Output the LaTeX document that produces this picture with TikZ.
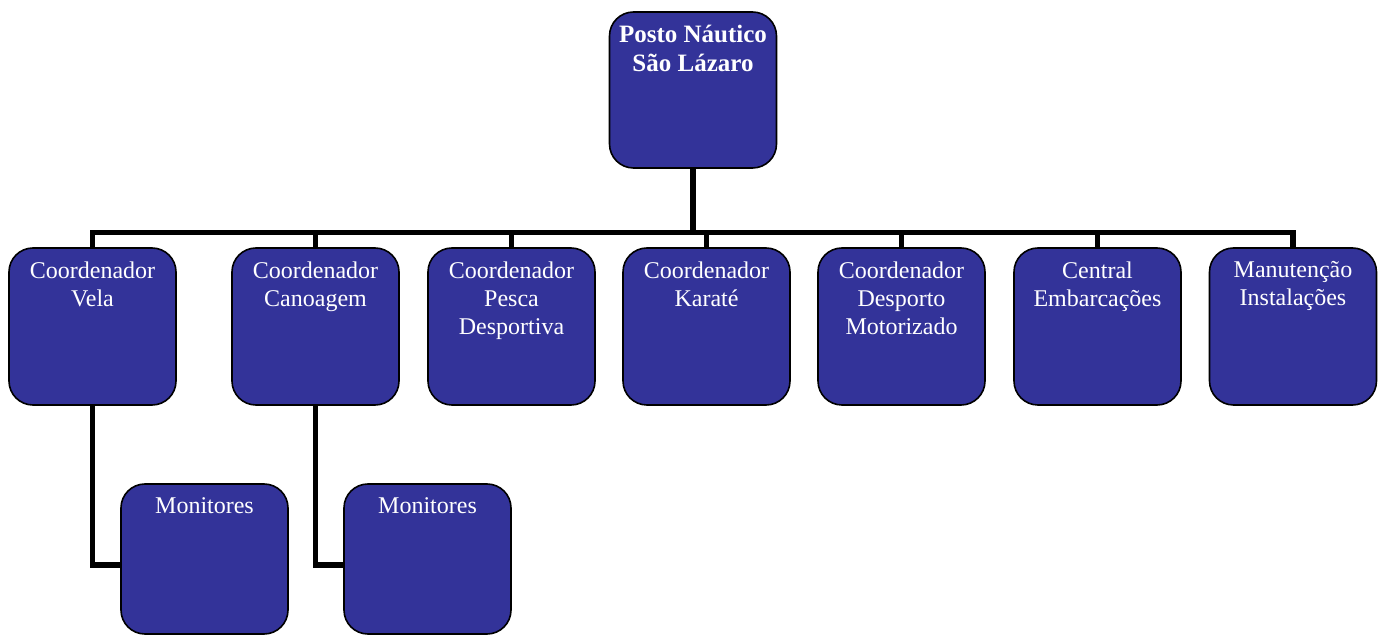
\documentclass[tikz,border=0pt]{standalone}
\usepackage{fontspec}
\setmainfont{Liberation Serif}
\definecolor{boxblue}{RGB}{51,51,153}
\tikzset{
  orgbox/.style={draw=black, line width=0.8pt, fill=boxblue, rounded corners=12pt,
    minimum width=83.5pt, minimum height=78.5pt, inner sep=0pt},
  orgtext/.style={text=white, align=center, anchor=north, inner sep=0pt,
    font=\fontsize{12}{14}\selectfont},
  toptext/.style={orgtext, font=\fontsize{12.5}{14.5}\selectfont\bfseries},
  conn/.style={draw=black, line width=2.6pt}
}
\begin{document}
\begin{tikzpicture}[x=0.5pt,y=-0.5pt]
\useasboundingbox (0,0) rectangle (1378,636);
% top
\node[orgbox, minimum height=78pt] (top) at (693,90) {};
% level 2
\node[orgbox] (c1) at (92.5,326.5) {};
\node[orgbox] (c2) at (315.5,326.5) {};
\node[orgbox] (c3) at (511.5,326.5) {};
\node[orgbox] (c4) at (706.5,326.5) {};
\node[orgbox] (c5) at (901.5,326.5) {};
\node[orgbox] (c6) at (1097.5,326.5) {};
\node[orgbox] (c7) at (1293,326.5) {};
% level 3
\node[orgbox, minimum height=75pt] (m1) at (204.5,559) {};
\node[orgbox, minimum height=75pt] (m2) at (427.5,559) {};
% connectors
\draw[conn] (top.south) -- ++(0,64) coordinate (bus);
\foreach \c in {c1,c2,c3,c4,c5,c6,c7} { \draw[conn] (bus) -| (\c.north); }
\draw[conn] (c1.south) |- ([yshift=-3pt]m1.west);
\draw[conn] (c2.south) |- ([yshift=-3pt]m2.west);
% redraw boxes over connectors
\foreach \b in {top,c1,c2,c3,c4,c5,c6,c7,m1,m2} {}
% texts
\node[toptext] (ttop) at ([yshift=-7pt]top.north) {Posto Náutico\\São Lázaro};
\node[orgtext] (t1) at ([yshift=-7pt]c1.north) {Coordenador\\Vela};
\node[orgtext] (t2) at ([yshift=-7pt]c2.north) {Coordenador\\Canoagem};
\node[orgtext] (t3) at ([yshift=-7pt]c3.north) {Coordenador\\Pesca\\Desportiva};
\node[orgtext] (t4) at ([yshift=-7pt]c4.north) {Coordenador\\Karaté};
\node[orgtext] (t5) at ([yshift=-7pt]c5.north) {Coordenador\\Desporto\\Motorizado};
\node[orgtext] (t6) at ([yshift=-7pt]c6.north) {Central\\Embarcações};
\node[orgtext] (t7) at ([yshift=-7pt]c7.north) {Manutenção\\Instalações};
\node[orgtext] (tm1) at ([yshift=-7pt]m1.north) {Monitores};
\node[orgtext] (tm2) at ([yshift=-7pt]m2.north) {Monitores};
\end{tikzpicture}
\end{document}
